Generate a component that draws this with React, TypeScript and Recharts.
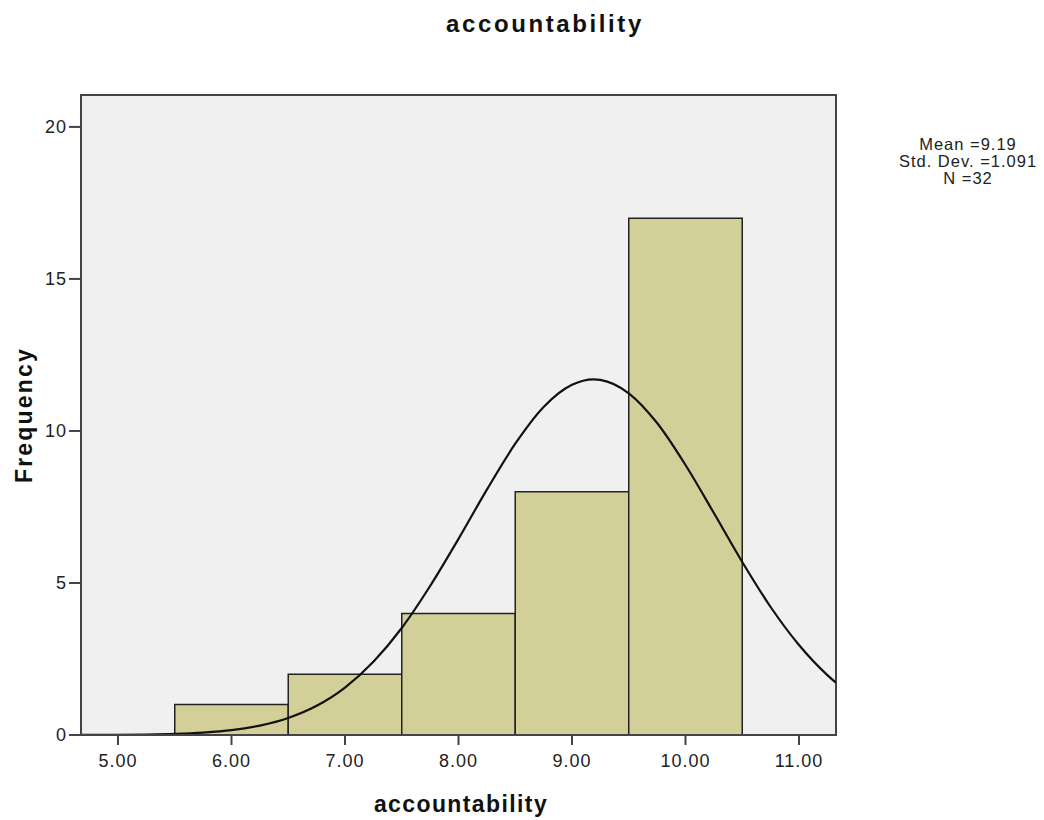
import React from 'react'
import { ComposedChart, XAxis, YAxis, Line, ReferenceArea } from 'recharts'

// histogram bins (accountability scores)
const binLower = [5.5, 6.5, 7.5, 8.5, 9.5]
const binUpper = [6.5, 7.5, 8.5, 9.5, 10.5]
const frequency = [1, 2, 4, 8, 17]

// normal curve
const curveX = [4.674, 5.0, 5.25, 5.5, 5.75, 6.0, 6.25, 6.5, 6.75, 7.0, 7.25, 7.5, 7.75, 8.0, 8.25, 8.5, 8.75, 9.0, 9.19, 9.25, 9.5, 9.75, 10.0, 10.25, 10.5, 10.75, 11.0, 11.25, 11.326]
const curveY = [0.002, 0.007, 0.017, 0.038, 0.081, 0.16, 0.31, 0.56, 0.96, 1.56, 2.41, 3.52, 4.9, 6.45, 8.07, 9.58, 10.79, 11.52, 11.7, 11.68, 11.24, 10.26, 8.88, 7.3, 5.69, 4.21, 2.96, 1.97, 1.72]

const xTicks = [5, 6, 7, 8, 9, 10, 11]
const yTicks = [0, 5, 10, 15, 20]
const xDomain = [4.674, 11.326]
const yDomain = [0, 21.05]

const statLines = ['Mean =9.19', 'Std. Dev. =1.091', 'N =32']

const font = '"Liberation Sans", Arial, sans-serif'
const axisColor = '#444'

const App = () => {
  const curveData = curveX.map((x, i) => ({ x, freq: curveY[i] }))

  return (
    <div style={{ position: 'relative', width: 1028, height: 810, fontFamily: font }}>
      <ComposedChart width={1028} height={810} data={curveData}
        margin={{ top: 87, right: 200, bottom: 0, left: 0 }}>
        <XAxis dataKey="x" type="number" domain={xDomain} ticks={xTicks} allowDataOverflow
          tickFormatter={(v: number) => v.toFixed(2)} height={83} tickSize={10} tickMargin={9}
          axisLine={{ stroke: axisColor, strokeWidth: 2 }} tickLine={{ stroke: axisColor, strokeWidth: 2 }}
          tick={{ fill: '#222', fontSize: 18, fontFamily: font, letterSpacing: 1 }} />
        <YAxis type="number" domain={yDomain} ticks={yTicks} allowDataOverflow width={73}
          tickSize={12} tickMargin={2}
          axisLine={{ stroke: axisColor, strokeWidth: 2 }} tickLine={{ stroke: axisColor, strokeWidth: 2 }}
          tick={{ fill: '#222', fontSize: 18, fontFamily: font, letterSpacing: 1 }} />
        <ReferenceArea x1={xDomain[0]} x2={xDomain[1]} y1={yDomain[0]} y2={yDomain[1]}
          fill="#f0f0f0" fillOpacity={1} stroke={axisColor} strokeWidth={2} />
        {frequency.map((f, i) => (
          <ReferenceArea key={i} x1={binLower[i]} x2={binUpper[i]} y1={0} y2={f}
            fill="#d3cf98" fillOpacity={1} stroke="#222" strokeWidth={1.5} />
        ))}
        <Line dataKey="freq" type="monotone" stroke="#111" strokeWidth={2.2} dot={false}
          activeDot={false} isAnimationActive={false} />
      </ComposedChart>
      <svg width={1036} height={810} style={{ position: 'absolute', left: 0, top: 0, pointerEvents: 'none' }}>
        <text x={537} y={24} textAnchor="middle" fontSize={24} fontWeight="bold" letterSpacing={2.6}
          fontFamily={font} fill="#111">accountability</text>
        <text x={453} y={804} textAnchor="middle" fontSize={23} fontWeight="bold" letterSpacing={1.4}
          fontFamily={font} fill="#111">accountability</text>
        <text x={24} y={407} transform="rotate(-90 24 407)" textAnchor="middle" fontSize={23}
          fontWeight="bold" letterSpacing={2.2} fontFamily={font} fill="#111">Frequency</text>
        {statLines.map((s, i) => (
          <text key={s} x={960} y={142 + i * 17} textAnchor="middle" fontSize={16.5} letterSpacing={1}
            fontFamily={font} fill="#222">{s}</text>
        ))}
      </svg>
    </div>
  )
}

export default App
